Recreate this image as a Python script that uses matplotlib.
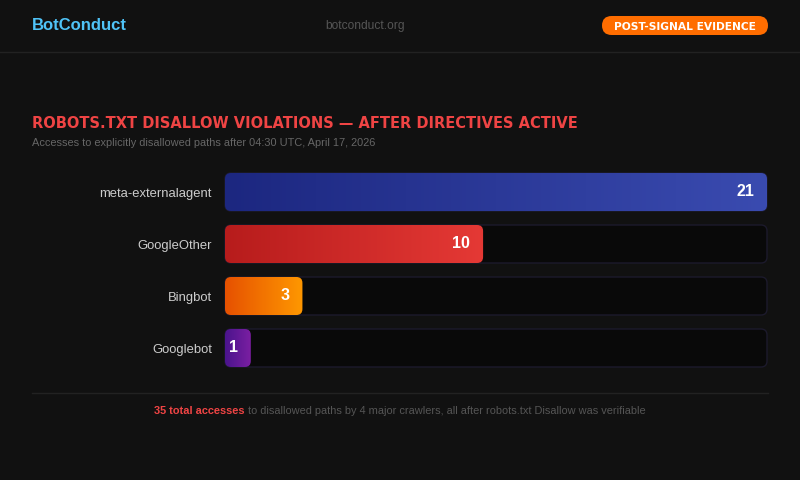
import matplotlib
matplotlib.use("Agg")
import matplotlib.pyplot as plt
import numpy as np
from matplotlib.patches import FancyBboxPatch
from matplotlib.colors import LinearSegmentedColormap
from matplotlib.lines import Line2D

# ---- data ----
crawlers = ["meta-externalagent", "GoogleOther", "Bingbot", "Googlebot"]
accesses = [21, 10, 3, 1]
bar_colors = [("#1c2780", "#3a4bb0"), ("#b71c1c", "#e53935"),
              ("#e65100", "#ff9800"), ("#4a148c", "#7b1fa2")]
title = "ROBOTS.TXT DISALLOW VIOLATIONS \u2014 AFTER DIRECTIVES ACTIVE"
subtitle = "Accesses to explicitly disallowed paths after 04:30 UTC, April 17, 2026"
brand = "BotConduct"
site = "botconduct.org"
badge = "POST-SIGNAL EVIDENCE"
footer_hi = "35 total accesses"
footer_rest = " to disallowed paths by 4 major crawlers, all after robots.txt Disallow was verifiable"

W, H = 800, 480
BG = "#111111"
fig = plt.figure(figsize=(8, 4.8), dpi=100, facecolor=BG)
FONT = "Liberation Sans"

def fx(px):
    return px / W

def fy(py):
    return 1 - py / H

def px2pt(px):
    return px * 0.72

renderer = fig.canvas.get_renderer()

def fit_text(x, y, s, target_w, size_px, **kw):
    t = fig.text(fx(x), fy(y), s, fontsize=px2pt(size_px), **kw)
    w = t.get_window_extent(renderer).width
    t.set_fontsize(px2pt(size_px) * target_w / w)
    return t

# header
fit_text(32, 24.5, brand, 95, 15, fontweight="bold", color="#4fc3f7",
         family=FONT, va="center_baseline", ha="left")
fig.text(fx(365.5), fy(24.5), site, fontsize=px2pt(12), color="#555555",
         family=FONT, va="center_baseline", ha="center")
fig.add_artist(FancyBboxPatch((fx(602), fy(35)), fx(166), fy(16) - fy(35),
                              boxstyle="round,pad=0,rounding_size=0.012",
                              mutation_aspect=W / H,
                              transform=fig.transFigure, facecolor="#ff6d00",
                              edgecolor="none"))
fit_text(685, 25.5, badge, 142, 10.5, fontweight="bold", color="white",
         family="DejaVu Sans", va="center_baseline", ha="center")
fig.add_artist(Line2D([0, 1], [fy(51.5), fy(51.5)], transform=fig.transFigure,
                      color="#222222", lw=1))

# title / subtitle
fit_text(32, 122, title, 546, 13.5, fontweight="bold", color="#ef4444",
         family="DejaVu Sans", va="center_baseline", ha="left")
fig.text(fx(32), fy(142), subtitle, fontsize=px2pt(11), color="#666666",
         family=FONT, va="center_baseline", ha="left")

# bars
top, bottom = 173, 367
ax = fig.add_axes([fx(225), fy(bottom), fx(767) - fx(225), (bottom - top) / H])
ax.set_facecolor("none")
n = len(crawlers)
hbar = 38 / 52
xmax = max(accesses)
ax.set_xlim(0, xmax)
ax.set_ylim(n - 1 + hbar / 2, -hbar / 2)
for s in ax.spines.values():
    s.set_visible(False)
ax.set_xticks([])
ax.set_yticks(range(n))
ax.set_yticklabels(crawlers, fontsize=px2pt(13), color="#cccccc", family=FONT)
ax.tick_params(axis="y", length=0, pad=13 * 0.72)

px_per_x = 542 / xmax
px_per_y = 52
r_px = 6
rs = r_px / px_per_x
asp = px_per_x / px_per_y

for i, (name, v, (c0, c1)) in enumerate(zip(crawlers, accesses, bar_colors)):
    y0 = i - hbar / 2
    track = FancyBboxPatch((0, y0), xmax, hbar,
                           boxstyle=f"round,pad=0,rounding_size={rs}",
                           mutation_aspect=asp,
                           facecolor="#090909", edgecolor="#1c1a2c", lw=1,
                           clip_on=False, zorder=1)
    ax.add_patch(track)
    bar = FancyBboxPatch((0, y0), v, hbar,
                         boxstyle=f"round,pad=0,rounding_size={rs}",
                         mutation_aspect=asp,
                         facecolor="none", edgecolor="none", clip_on=False,
                         zorder=2)
    ax.add_patch(bar)
    cmap = LinearSegmentedColormap.from_list(f"g{i}", [c0, c1])
    grad = np.linspace(0, 1, 256).reshape(1, -1)
    im = ax.imshow(grad, cmap=cmap, aspect="auto", extent=(0, v, y0 + hbar, y0),
                   zorder=2, interpolation="bilinear")
    im.set_clip_path(bar)
    ax.annotate(str(v), xy=(v, i), xytext=(-13, 1.5), textcoords="offset pixels",
                ha="right", va="center_baseline", color="white", fontweight="bold",
                fontsize=px2pt(16), family=FONT, zorder=3)

ax.set_xlim(0, xmax)
ax.set_ylim(n - 1 + hbar / 2, -hbar / 2)

# footer
fig.add_artist(Line2D([fx(32), fx(768)], [fy(392.5), fy(392.5)],
                      transform=fig.transFigure, color="#222222", lw=1))
t1 = fig.text(0, fy(410.5), footer_hi, fontsize=px2pt(11), fontweight="bold",
              color="#ef4444", family=FONT, va="center_baseline", ha="left")
t2 = fig.text(0, fy(410.5), footer_rest, fontsize=px2pt(11), color="#555555",
              family=FONT, va="center_baseline", ha="left")
w1 = t1.get_window_extent(renderer).width
w2 = t2.get_window_extent(renderer).width
x0 = 400 - (w1 + w2) / 2
t1.set_x(fx(x0))
t2.set_x(fx(x0 + w1))

fig.savefig("out.png", dpi=100, facecolor=BG)
